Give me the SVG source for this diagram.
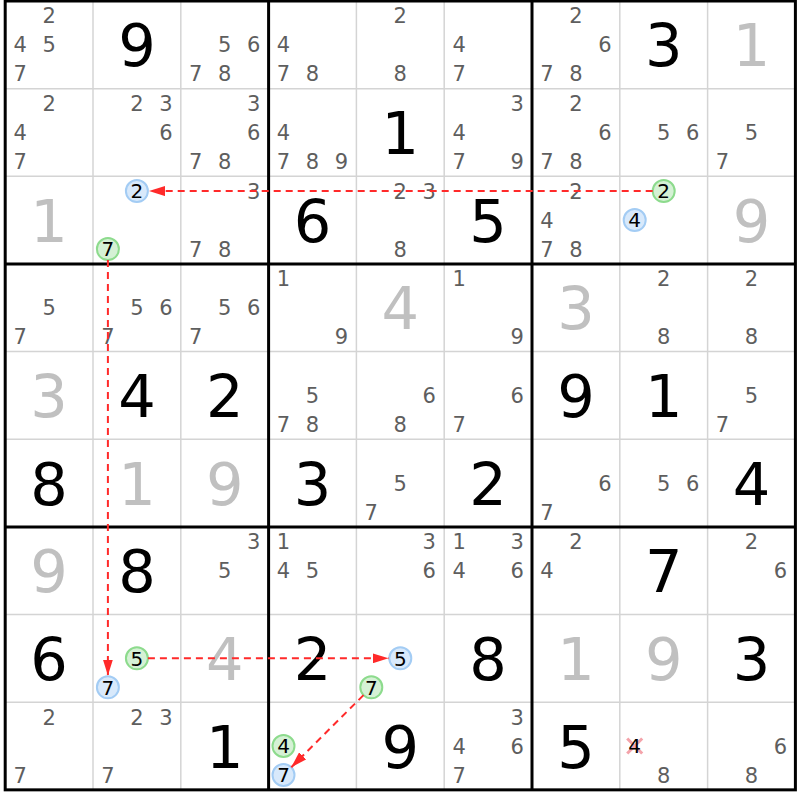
<svg xmlns="http://www.w3.org/2000/svg" width="800" height="800" viewBox="0 0 800 800">
<defs>
<style>
text{font-family:"DejaVu Sans",Verdana,sans-serif;text-anchor:middle}
.g{font-size:59px;fill:#000}
.s{font-size:59px;fill:#c0c0c0}
.c{font-size:21px;fill:#5e5e5e}
.k{font-size:20px;fill:#000}
.cb{fill:#d8e9fb;stroke:#a3ccf4;stroke-width:2}
.cg{fill:#d5f1d5;stroke:#8ddb8d;stroke-width:2}
.thin{stroke:#d4d4d4;stroke-width:1.5}
.thick{stroke:#000;stroke-width:3}
.ln{stroke:#ff2a2a;stroke-width:2;stroke-dasharray:7 5;fill:none;marker-end:url(#ah)}
.x{stroke:#f4a3aa;stroke-width:3}
</style>
<marker id="ah" markerUnits="userSpaceOnUse" markerWidth="16" markerHeight="10" refX="16" refY="5" orient="auto">
<path d="M0,0 L16,5 L0,10 z" fill="#ff2a2a"/>
</marker>
</defs>
<rect x="0" y="0" width="800" height="800" fill="#fff"/>
<g id="grid">
<g class="thin">
<line x1="93" y1="1" x2="93" y2="789.85"/>
<line x1="180.8" y1="1" x2="180.8" y2="789.85"/>
<line x1="356.4" y1="1" x2="356.4" y2="789.85"/>
<line x1="444.2" y1="1" x2="444.2" y2="789.85"/>
<line x1="619.8" y1="1" x2="619.8" y2="789.85"/>
<line x1="707.6" y1="1" x2="707.6" y2="789.85"/>
<line x1="5.2" y1="88.65" x2="795.4" y2="88.65"/>
<line x1="5.2" y1="176.3" x2="795.4" y2="176.3"/>
<line x1="5.2" y1="351.6" x2="795.4" y2="351.6"/>
<line x1="5.2" y1="439.25" x2="795.4" y2="439.25"/>
<line x1="5.2" y1="614.55" x2="795.4" y2="614.55"/>
<line x1="5.2" y1="702.2" x2="795.4" y2="702.2"/>
</g>
<g class="thick">
<line x1="268.6" y1="1" x2="268.6" y2="789.85"/>
<line x1="532" y1="1" x2="532" y2="789.85"/>
<line x1="5.2" y1="263.95" x2="795.4" y2="263.95"/>
<line x1="5.2" y1="526.9" x2="795.4" y2="526.9"/>
<rect x="5.2" y="1" width="790.2" height="788.85" fill="none"/>
</g>
</g>
<g id="cells">
<!-- Row 0 -->
<g id="r0c0" transform="translate(49.1,44.8)" class="c"><text x="0" y="-21.4">2</text><text x="-29" y="7.6">4</text><text x="0" y="7.6">5</text><text x="-29" y="36.6">7</text></g>
<g id="r0c1" transform="translate(136.9,44.8)"><text class="g" y="21.5">9</text></g>
<g id="r0c2" transform="translate(224.7,44.8)" class="c"><text x="0" y="7.6">5</text><text x="29" y="7.6">6</text><text x="-29" y="36.6">7</text><text x="0" y="36.6">8</text></g>
<g id="r0c3" transform="translate(312.5,44.8)" class="c"><text x="-29" y="7.6">4</text><text x="-29" y="36.6">7</text><text x="0" y="36.6">8</text></g>
<g id="r0c4" transform="translate(400.3,44.8)" class="c"><text x="0" y="-21.4">2</text><text x="0" y="36.6">8</text></g>
<g id="r0c5" transform="translate(488.1,44.8)" class="c"><text x="-29" y="7.6">4</text><text x="-29" y="36.6">7</text></g>
<g id="r0c6" transform="translate(575.9,44.8)" class="c"><text x="0" y="-21.4">2</text><text x="29" y="7.6">6</text><text x="-29" y="36.6">7</text><text x="0" y="36.6">8</text></g>
<g id="r0c7" transform="translate(663.7,44.8)"><text class="g" y="21.5">3</text></g>
<g id="r0c8" transform="translate(751.5,44.8)"><text class="s" y="21.5">1</text></g>
<!-- Row 1 -->
<g id="r1c0" transform="translate(49.1,132.45)" class="c"><text x="0" y="-21.4">2</text><text x="-29" y="7.6">4</text><text x="-29" y="36.6">7</text></g>
<g id="r1c1" transform="translate(136.9,132.45)" class="c"><text x="0" y="-21.4">2</text><text x="29" y="-21.4">3</text><text x="29" y="7.6">6</text></g>
<g id="r1c2" transform="translate(224.7,132.45)" class="c"><text x="29" y="-21.4">3</text><text x="29" y="7.6">6</text><text x="-29" y="36.6">7</text><text x="0" y="36.6">8</text></g>
<g id="r1c3" transform="translate(312.5,132.45)" class="c"><text x="-29" y="7.6">4</text><text x="-29" y="36.6">7</text><text x="0" y="36.6">8</text><text x="29" y="36.6">9</text></g>
<g id="r1c4" transform="translate(400.3,132.45)"><text class="g" y="21.5">1</text></g>
<g id="r1c5" transform="translate(488.1,132.45)" class="c"><text x="29" y="-21.4">3</text><text x="-29" y="7.6">4</text><text x="-29" y="36.6">7</text><text x="29" y="36.6">9</text></g>
<g id="r1c6" transform="translate(575.9,132.45)" class="c"><text x="0" y="-21.4">2</text><text x="29" y="7.6">6</text><text x="-29" y="36.6">7</text><text x="0" y="36.6">8</text></g>
<g id="r1c7" transform="translate(663.7,132.45)" class="c"><text x="0" y="7.6">5</text><text x="29" y="7.6">6</text></g>
<g id="r1c8" transform="translate(751.5,132.45)" class="c"><text x="0" y="7.6">5</text><text x="-29" y="36.6">7</text></g>
<!-- Row 2 -->
<g id="r2c0" transform="translate(49.1,220.1)"><text class="s" y="21.5">1</text></g>
<g id="r2c1" transform="translate(136.9,220.1)"><circle class="cb" cx="0" cy="-29" r="11"/><text class="k" x="0" y="-21.7">2</text><circle class="cg" cx="-29" cy="29" r="11"/><text class="k" x="-29" y="36.3">7</text></g>
<g id="r2c2" transform="translate(224.7,220.1)" class="c"><text x="29" y="-21.4">3</text><text x="-29" y="36.6">7</text><text x="0" y="36.6">8</text></g>
<g id="r2c3" transform="translate(312.5,220.1)"><text class="g" y="21.5">6</text></g>
<g id="r2c4" transform="translate(400.3,220.1)" class="c"><text x="0" y="-21.4">2</text><text x="29" y="-21.4">3</text><text x="0" y="36.6">8</text></g>
<g id="r2c5" transform="translate(488.1,220.1)"><text class="g" y="21.5">5</text></g>
<g id="r2c6" transform="translate(575.9,220.1)" class="c"><text x="0" y="-21.4">2</text><text x="-29" y="7.6">4</text><text x="-29" y="36.6">7</text><text x="0" y="36.6">8</text></g>
<g id="r2c7" transform="translate(663.7,220.1)"><circle class="cg" cx="0" cy="-29" r="11"/><text class="k" x="0" y="-21.7">2</text><circle class="cb" cx="-29" cy="0" r="11"/><text class="k" x="-29" y="7.3">4</text></g>
<g id="r2c8" transform="translate(751.5,220.1)"><text class="s" y="21.5">9</text></g>
<!-- Row 3 -->
<g id="r3c0" transform="translate(49.1,307.75)" class="c"><text x="0" y="7.6">5</text><text x="-29" y="36.6">7</text></g>
<g id="r3c1" transform="translate(136.9,307.75)" class="c"><text x="0" y="7.6">5</text><text x="29" y="7.6">6</text><text x="-29" y="36.6">7</text></g>
<g id="r3c2" transform="translate(224.7,307.75)" class="c"><text x="0" y="7.6">5</text><text x="29" y="7.6">6</text><text x="-29" y="36.6">7</text></g>
<g id="r3c3" transform="translate(312.5,307.75)" class="c"><text x="-29" y="-21.4">1</text><text x="29" y="36.6">9</text></g>
<g id="r3c4" transform="translate(400.3,307.75)"><text class="s" y="21.5">4</text></g>
<g id="r3c5" transform="translate(488.1,307.75)" class="c"><text x="-29" y="-21.4">1</text><text x="29" y="36.6">9</text></g>
<g id="r3c6" transform="translate(575.9,307.75)"><text class="s" y="21.5">3</text></g>
<g id="r3c7" transform="translate(663.7,307.75)" class="c"><text x="0" y="-21.4">2</text><text x="0" y="36.6">8</text></g>
<g id="r3c8" transform="translate(751.5,307.75)" class="c"><text x="0" y="-21.4">2</text><text x="0" y="36.6">8</text></g>
<!-- Row 4 -->
<g id="r4c0" transform="translate(49.1,395.4)"><text class="s" y="21.5">3</text></g>
<g id="r4c1" transform="translate(136.9,395.4)"><text class="g" y="21.5">4</text></g>
<g id="r4c2" transform="translate(224.7,395.4)"><text class="g" y="21.5">2</text></g>
<g id="r4c3" transform="translate(312.5,395.4)" class="c"><text x="0" y="7.6">5</text><text x="-29" y="36.6">7</text><text x="0" y="36.6">8</text></g>
<g id="r4c4" transform="translate(400.3,395.4)" class="c"><text x="29" y="7.6">6</text><text x="0" y="36.6">8</text></g>
<g id="r4c5" transform="translate(488.1,395.4)" class="c"><text x="29" y="7.6">6</text><text x="-29" y="36.6">7</text></g>
<g id="r4c6" transform="translate(575.9,395.4)"><text class="g" y="21.5">9</text></g>
<g id="r4c7" transform="translate(663.7,395.4)"><text class="g" y="21.5">1</text></g>
<g id="r4c8" transform="translate(751.5,395.4)" class="c"><text x="0" y="7.6">5</text><text x="-29" y="36.6">7</text></g>
<!-- Row 5 -->
<g id="r5c0" transform="translate(49.1,483.05)"><text class="g" y="21.5">8</text></g>
<g id="r5c1" transform="translate(136.9,483.05)"><text class="s" y="21.5">1</text></g>
<g id="r5c2" transform="translate(224.7,483.05)"><text class="s" y="21.5">9</text></g>
<g id="r5c3" transform="translate(312.5,483.05)"><text class="g" y="21.5">3</text></g>
<g id="r5c4" transform="translate(400.3,483.05)" class="c"><text x="0" y="7.6">5</text><text x="-29" y="36.6">7</text></g>
<g id="r5c5" transform="translate(488.1,483.05)"><text class="g" y="21.5">2</text></g>
<g id="r5c6" transform="translate(575.9,483.05)" class="c"><text x="29" y="7.6">6</text><text x="-29" y="36.6">7</text></g>
<g id="r5c7" transform="translate(663.7,483.05)" class="c"><text x="0" y="7.6">5</text><text x="29" y="7.6">6</text></g>
<g id="r5c8" transform="translate(751.5,483.05)"><text class="g" y="21.5">4</text></g>
<!-- Row 6 -->
<g id="r6c0" transform="translate(49.1,570.7)"><text class="s" y="21.5">9</text></g>
<g id="r6c1" transform="translate(136.9,570.7)"><text class="g" y="21.5">8</text></g>
<g id="r6c2" transform="translate(224.7,570.7)" class="c"><text x="29" y="-21.4">3</text><text x="0" y="7.6">5</text></g>
<g id="r6c3" transform="translate(312.5,570.7)" class="c"><text x="-29" y="-21.4">1</text><text x="-29" y="7.6">4</text><text x="0" y="7.6">5</text></g>
<g id="r6c4" transform="translate(400.3,570.7)" class="c"><text x="29" y="-21.4">3</text><text x="29" y="7.6">6</text></g>
<g id="r6c5" transform="translate(488.1,570.7)" class="c"><text x="-29" y="-21.4">1</text><text x="29" y="-21.4">3</text><text x="-29" y="7.6">4</text><text x="29" y="7.6">6</text></g>
<g id="r6c6" transform="translate(575.9,570.7)" class="c"><text x="0" y="-21.4">2</text><text x="-29" y="7.6">4</text></g>
<g id="r6c7" transform="translate(663.7,570.7)"><text class="g" y="21.5">7</text></g>
<g id="r6c8" transform="translate(751.5,570.7)" class="c"><text x="0" y="-21.4">2</text><text x="29" y="7.6">6</text></g>
<!-- Row 7 -->
<g id="r7c0" transform="translate(49.1,658.35)"><text class="g" y="21.5">6</text></g>
<g id="r7c1" transform="translate(136.9,658.35)"><circle class="cg" cx="0" cy="0" r="11"/><text class="k" x="0" y="7.3">5</text><circle class="cb" cx="-29" cy="29" r="11"/><text class="k" x="-29" y="36.3">7</text></g>
<g id="r7c2" transform="translate(224.7,658.35)"><text class="s" y="21.5">4</text></g>
<g id="r7c3" transform="translate(312.5,658.35)"><text class="g" y="21.5">2</text></g>
<g id="r7c4" transform="translate(400.3,658.35)"><circle class="cb" cx="0" cy="0" r="11"/><text class="k" x="0" y="7.3">5</text><circle class="cg" cx="-29" cy="29" r="11"/><text class="k" x="-29" y="36.3">7</text></g>
<g id="r7c5" transform="translate(488.1,658.35)"><text class="g" y="21.5">8</text></g>
<g id="r7c6" transform="translate(575.9,658.35)"><text class="s" y="21.5">1</text></g>
<g id="r7c7" transform="translate(663.7,658.35)"><text class="s" y="21.5">9</text></g>
<g id="r7c8" transform="translate(751.5,658.35)"><text class="g" y="21.5">3</text></g>
<!-- Row 8 -->
<g id="r8c0" transform="translate(49.1,746)" class="c"><text x="0" y="-21.4">2</text><text x="-29" y="36.6">7</text></g>
<g id="r8c1" transform="translate(136.9,746)" class="c"><text x="0" y="-21.4">2</text><text x="29" y="-21.4">3</text><text x="-29" y="36.6">7</text></g>
<g id="r8c2" transform="translate(224.7,746)"><text class="g" y="21.5">1</text></g>
<g id="r8c3" transform="translate(312.5,746)"><circle class="cg" cx="-29" cy="0" r="11"/><text class="k" x="-29" y="7.3">4</text><circle class="cb" cx="-29" cy="29" r="11"/><text class="k" x="-29" y="36.3">7</text></g>
<g id="r8c4" transform="translate(400.3,746)"><text class="g" y="21.5">9</text></g>
<g id="r8c5" transform="translate(488.1,746)" class="c"><text x="29" y="-21.4">3</text><text x="-29" y="7.6">4</text><text x="29" y="7.6">6</text><text x="-29" y="36.6">7</text></g>
<g id="r8c6" transform="translate(575.9,746)"><text class="g" y="21.5">5</text></g>
<g id="r8c7" transform="translate(663.7,746)"><line class="x" x1="-36.5" y1="-7.5" x2="-21.5" y2="7.5"/><line class="x" x1="-36.5" y1="7.5" x2="-21.5" y2="-7.5"/><text class="k" x="-29" y="7.3">4</text><text class="c" x="0" y="36.6">8</text></g>
<g id="r8c8" transform="translate(751.5,746)" class="c"><text x="29" y="7.6">6</text><text x="0" y="36.6">8</text></g>
</g>
<g id="connectors">
<line class="ln" x1="652.7" y1="191.1" x2="149" y2="191.1"/>
<line class="ln" x1="107.9" y1="260.1" x2="107.9" y2="675.5"/>
<line class="ln" x1="147.9" y1="658.35" x2="388.5" y2="658.35"/>
<line class="ln" x1="363.5" y1="695.15" x2="291.3" y2="767.2"/>
</g>
</svg>
